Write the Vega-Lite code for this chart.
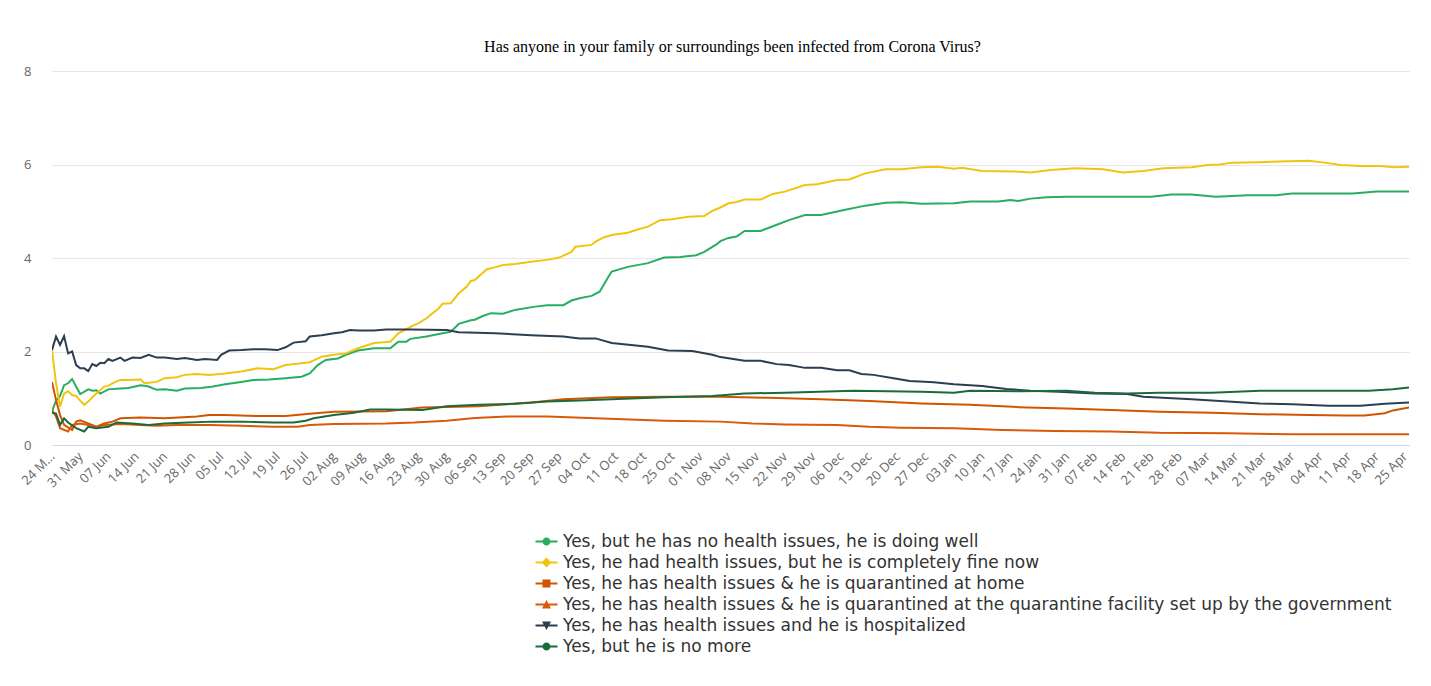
{
"$schema": "https://vega.github.io/schema/vega-lite/v6.json",
"width": 1357,
"height": 374,
"autosize": {"type": "none"},
"padding": {"left": 52, "top": 71, "right": 22, "bottom": 241},
"background": "#ffffff",
"title": {"text": "Has anyone in your family or surroundings been infected from Corona Virus?", "font": "Liberation Serif", "fontSize": 16, "fontWeight": "normal", "color": "#000000", "offset": 10, "anchor": "middle", "dx": 2},
"datasets": {
"series": [
{"k": "w", "name": "Yes, but he has no health issues, he is doing well"},
{"k": "f", "name": "Yes, he had health issues, but he is completely fine now"},
{"k": "h", "name": "Yes, he has health issues & he is quarantined at home"},
{"k": "q", "name": "Yes, he has health issues & he is quarantined at the quarantine facility set up by the government"},
{"k": "p", "name": "Yes, he has health issues and he is hospitalized"},
{"k": "m", "name": "Yes, but he is no more"}
],
"points": [
{"k":"w","d":"2020-05-24","v":0.72},{"k":"w","d":"2020-05-25","v":0.95},{"k":"w","d":"2020-05-26","v":1.05},{"k":"w","d":"2020-05-27","v":1.28},{"k":"w","d":"2020-05-28","v":1.32},{"k":"w","d":"2020-05-29","v":1.41},{"k":"w","d":"2020-05-31","v":1.09},{"k":"w","d":"2020-06-02","v":1.19},{"k":"w","d":"2020-06-03","v":1.16},{"k":"w","d":"2020-06-04","v":1.17},{"k":"w","d":"2020-06-05","v":1.10},{"k":"w","d":"2020-06-07","v":1.19},{"k":"w","d":"2020-06-10","v":1.21},{"k":"w","d":"2020-06-12","v":1.22},{"k":"w","d":"2020-06-15","v":1.28},{"k":"w","d":"2020-06-17","v":1.25},{"k":"w","d":"2020-06-19","v":1.18},{"k":"w","d":"2020-06-21","v":1.19},{"k":"w","d":"2020-06-24","v":1.16},{"k":"w","d":"2020-06-26","v":1.21},{"k":"w","d":"2020-06-30","v":1.22},{"k":"w","d":"2020-07-03","v":1.25},{"k":"w","d":"2020-07-06","v":1.30},{"k":"w","d":"2020-07-10","v":1.35},{"k":"w","d":"2020-07-13","v":1.39},{"k":"w","d":"2020-07-17","v":1.40},{"k":"w","d":"2020-07-21","v":1.43},{"k":"w","d":"2020-07-25","v":1.46},{"k":"w","d":"2020-07-27","v":1.53},{"k":"w","d":"2020-07-29","v":1.71},{"k":"w","d":"2020-07-31","v":1.82},{"k":"w","d":"2020-08-03","v":1.85},{"k":"w","d":"2020-08-05","v":1.93},{"k":"w","d":"2020-08-08","v":2.02},{"k":"w","d":"2020-08-12","v":2.07},{"k":"w","d":"2020-08-16","v":2.07},{"k":"w","d":"2020-08-18","v":2.21},{"k":"w","d":"2020-08-20","v":2.21},{"k":"w","d":"2020-08-21","v":2.27},{"k":"w","d":"2020-08-25","v":2.32},{"k":"w","d":"2020-08-29","v":2.39},{"k":"w","d":"2020-08-31","v":2.42},{"k":"w","d":"2020-09-02","v":2.59},{"k":"w","d":"2020-09-05","v":2.67},{"k":"w","d":"2020-09-06","v":2.68},{"k":"w","d":"2020-09-08","v":2.76},{"k":"w","d":"2020-09-10","v":2.82},{"k":"w","d":"2020-09-13","v":2.81},{"k":"w","d":"2020-09-16","v":2.89},{"k":"w","d":"2020-09-21","v":2.96},{"k":"w","d":"2020-09-24","v":2.99},{"k":"w","d":"2020-09-28","v":2.99},{"k":"w","d":"2020-09-30","v":3.09},{"k":"w","d":"2020-10-02","v":3.14},{"k":"w","d":"2020-10-05","v":3.19},{"k":"w","d":"2020-10-07","v":3.28},{"k":"w","d":"2020-10-09","v":3.57},{"k":"w","d":"2020-10-10","v":3.71},{"k":"w","d":"2020-10-14","v":3.81},{"k":"w","d":"2020-10-19","v":3.89},{"k":"w","d":"2020-10-23","v":4.01},{"k":"w","d":"2020-10-27","v":4.02},{"k":"w","d":"2020-10-31","v":4.06},{"k":"w","d":"2020-11-02","v":4.13},{"k":"w","d":"2020-11-05","v":4.29},{"k":"w","d":"2020-11-06","v":4.36},{"k":"w","d":"2020-11-08","v":4.43},{"k":"w","d":"2020-11-10","v":4.46},{"k":"w","d":"2020-11-12","v":4.58},{"k":"w","d":"2020-11-16","v":4.58},{"k":"w","d":"2020-11-20","v":4.71},{"k":"w","d":"2020-11-23","v":4.81},{"k":"w","d":"2020-11-27","v":4.92},{"k":"w","d":"2020-12-01","v":4.92},{"k":"w","d":"2020-12-07","v":5.03},{"k":"w","d":"2020-12-12","v":5.12},{"k":"w","d":"2020-12-17","v":5.18},{"k":"w","d":"2020-12-21","v":5.19},{"k":"w","d":"2020-12-26","v":5.16},{"k":"w","d":"2021-01-03","v":5.17},{"k":"w","d":"2021-01-07","v":5.21},{"k":"w","d":"2021-01-14","v":5.21},{"k":"w","d":"2021-01-17","v":5.24},{"k":"w","d":"2021-01-19","v":5.22},{"k":"w","d":"2021-01-22","v":5.27},{"k":"w","d":"2021-01-26","v":5.30},{"k":"w","d":"2021-01-31","v":5.31},{"k":"w","d":"2021-02-12","v":5.31},{"k":"w","d":"2021-02-21","v":5.31},{"k":"w","d":"2021-02-26","v":5.36},{"k":"w","d":"2021-03-03","v":5.36},{"k":"w","d":"2021-03-09","v":5.31},{"k":"w","d":"2021-03-17","v":5.34},{"k":"w","d":"2021-03-24","v":5.34},{"k":"w","d":"2021-03-28","v":5.38},{"k":"w","d":"2021-04-12","v":5.38},{"k":"w","d":"2021-04-18","v":5.42},{"k":"w","d":"2021-04-26","v":5.42},
{"k":"f","d":"2020-05-24","v":2.03},{"k":"f","d":"2020-05-25","v":1.32},{"k":"f","d":"2020-05-26","v":0.82},{"k":"f","d":"2020-05-27","v":1.10},{"k":"f","d":"2020-05-28","v":1.15},{"k":"f","d":"2020-05-29","v":1.07},{"k":"f","d":"2020-05-30","v":1.05},{"k":"f","d":"2020-05-31","v":0.95},{"k":"f","d":"2020-06-01","v":0.86},{"k":"f","d":"2020-06-02","v":0.93},{"k":"f","d":"2020-06-04","v":1.10},{"k":"f","d":"2020-06-06","v":1.25},{"k":"f","d":"2020-06-07","v":1.27},{"k":"f","d":"2020-06-09","v":1.36},{"k":"f","d":"2020-06-10","v":1.39},{"k":"f","d":"2020-06-12","v":1.39},{"k":"f","d":"2020-06-15","v":1.40},{"k":"f","d":"2020-06-16","v":1.32},{"k":"f","d":"2020-06-19","v":1.35},{"k":"f","d":"2020-06-21","v":1.43},{"k":"f","d":"2020-06-24","v":1.45},{"k":"f","d":"2020-06-26","v":1.50},{"k":"f","d":"2020-06-29","v":1.52},{"k":"f","d":"2020-07-02","v":1.50},{"k":"f","d":"2020-07-06","v":1.53},{"k":"f","d":"2020-07-10","v":1.57},{"k":"f","d":"2020-07-14","v":1.64},{"k":"f","d":"2020-07-18","v":1.62},{"k":"f","d":"2020-07-21","v":1.71},{"k":"f","d":"2020-07-25","v":1.75},{"k":"f","d":"2020-07-27","v":1.77},{"k":"f","d":"2020-07-30","v":1.89},{"k":"f","d":"2020-08-02","v":1.93},{"k":"f","d":"2020-08-05","v":1.96},{"k":"f","d":"2020-08-08","v":2.07},{"k":"f","d":"2020-08-12","v":2.18},{"k":"f","d":"2020-08-16","v":2.21},{"k":"f","d":"2020-08-18","v":2.39},{"k":"f","d":"2020-08-22","v":2.57},{"k":"f","d":"2020-08-23","v":2.60},{"k":"f","d":"2020-08-25","v":2.71},{"k":"f","d":"2020-08-28","v":2.92},{"k":"f","d":"2020-08-29","v":3.02},{"k":"f","d":"2020-08-31","v":3.03},{"k":"f","d":"2020-09-02","v":3.24},{"k":"f","d":"2020-09-04","v":3.39},{"k":"f","d":"2020-09-05","v":3.51},{"k":"f","d":"2020-09-06","v":3.53},{"k":"f","d":"2020-09-09","v":3.76},{"k":"f","d":"2020-09-11","v":3.80},{"k":"f","d":"2020-09-13","v":3.85},{"k":"f","d":"2020-09-16","v":3.87},{"k":"f","d":"2020-09-20","v":3.92},{"k":"f","d":"2020-09-24","v":3.96},{"k":"f","d":"2020-09-27","v":4.01},{"k":"f","d":"2020-09-30","v":4.13},{"k":"f","d":"2020-10-01","v":4.24},{"k":"f","d":"2020-10-05","v":4.28},{"k":"f","d":"2020-10-06","v":4.35},{"k":"f","d":"2020-10-08","v":4.44},{"k":"f","d":"2020-10-10","v":4.49},{"k":"f","d":"2020-10-14","v":4.54},{"k":"f","d":"2020-10-16","v":4.60},{"k":"f","d":"2020-10-19","v":4.67},{"k":"f","d":"2020-10-22","v":4.81},{"k":"f","d":"2020-10-25","v":4.83},{"k":"f","d":"2020-10-29","v":4.88},{"k":"f","d":"2020-11-02","v":4.90},{"k":"f","d":"2020-11-04","v":5.01},{"k":"f","d":"2020-11-06","v":5.08},{"k":"f","d":"2020-11-08","v":5.17},{"k":"f","d":"2020-11-10","v":5.20},{"k":"f","d":"2020-11-12","v":5.25},{"k":"f","d":"2020-11-16","v":5.25},{"k":"f","d":"2020-11-19","v":5.37},{"k":"f","d":"2020-11-22","v":5.42},{"k":"f","d":"2020-11-27","v":5.56},{"k":"f","d":"2020-11-30","v":5.58},{"k":"f","d":"2020-12-05","v":5.67},{"k":"f","d":"2020-12-08","v":5.68},{"k":"f","d":"2020-12-12","v":5.81},{"k":"f","d":"2020-12-17","v":5.90},{"k":"f","d":"2020-12-21","v":5.90},{"k":"f","d":"2020-12-26","v":5.94},{"k":"f","d":"2020-12-30","v":5.95},{"k":"f","d":"2021-01-03","v":5.91},{"k":"f","d":"2021-01-05","v":5.93},{"k":"f","d":"2021-01-10","v":5.86},{"k":"f","d":"2021-01-18","v":5.85},{"k":"f","d":"2021-01-22","v":5.83},{"k":"f","d":"2021-01-27","v":5.88},{"k":"f","d":"2021-02-02","v":5.92},{"k":"f","d":"2021-02-09","v":5.90},{"k":"f","d":"2021-02-14","v":5.83},{"k":"f","d":"2021-02-19","v":5.86},{"k":"f","d":"2021-02-24","v":5.92},{"k":"f","d":"2021-03-03","v":5.94},{"k":"f","d":"2021-03-07","v":5.99},{"k":"f","d":"2021-03-10","v":6.00},{"k":"f","d":"2021-03-13","v":6.04},{"k":"f","d":"2021-03-20","v":6.05},{"k":"f","d":"2021-03-27","v":6.07},{"k":"f","d":"2021-04-01","v":6.08},{"k":"f","d":"2021-04-05","v":6.04},{"k":"f","d":"2021-04-09","v":5.99},{"k":"f","d":"2021-04-14","v":5.97},{"k":"f","d":"2021-04-19","v":5.97},{"k":"f","d":"2021-04-22","v":5.94},{"k":"f","d":"2021-04-26","v":5.95},
{"k":"h","d":"2020-05-24","v":1.35},{"k":"h","d":"2020-05-25","v":0.96},{"k":"h","d":"2020-05-26","v":0.64},{"k":"h","d":"2020-05-27","v":0.43},{"k":"h","d":"2020-05-29","v":0.32},{"k":"h","d":"2020-05-30","v":0.50},{"k":"h","d":"2020-05-31","v":0.53},{"k":"h","d":"2020-06-02","v":0.46},{"k":"h","d":"2020-06-04","v":0.39},{"k":"h","d":"2020-06-06","v":0.46},{"k":"h","d":"2020-06-08","v":0.50},{"k":"h","d":"2020-06-10","v":0.57},{"k":"h","d":"2020-06-15","v":0.59},{"k":"h","d":"2020-06-21","v":0.57},{"k":"h","d":"2020-06-29","v":0.61},{"k":"h","d":"2020-07-02","v":0.64},{"k":"h","d":"2020-07-06","v":0.64},{"k":"h","d":"2020-07-14","v":0.62},{"k":"h","d":"2020-07-21","v":0.62},{"k":"h","d":"2020-07-27","v":0.67},{"k":"h","d":"2020-08-02","v":0.71},{"k":"h","d":"2020-08-15","v":0.72},{"k":"h","d":"2020-08-24","v":0.80},{"k":"h","d":"2020-09-07","v":0.83},{"k":"h","d":"2020-09-20","v":0.91},{"k":"h","d":"2020-09-28","v":0.98},{"k":"h","d":"2020-10-10","v":1.02},{"k":"h","d":"2020-10-23","v":1.03},{"k":"h","d":"2020-11-06","v":1.03},{"k":"h","d":"2020-11-18","v":1.01},{"k":"h","d":"2020-12-01","v":0.98},{"k":"h","d":"2020-12-13","v":0.94},{"k":"h","d":"2020-12-26","v":0.89},{"k":"h","d":"2021-01-07","v":0.86},{"k":"h","d":"2021-01-19","v":0.81},{"k":"h","d":"2021-01-31","v":0.78},{"k":"h","d":"2021-02-11","v":0.75},{"k":"h","d":"2021-02-23","v":0.71},{"k":"h","d":"2021-03-08","v":0.69},{"k":"h","d":"2021-03-20","v":0.66},{"k":"h","d":"2021-04-01","v":0.64},{"k":"h","d":"2021-04-10","v":0.63},{"k":"h","d":"2021-04-15","v":0.63},{"k":"h","d":"2021-04-20","v":0.68},{"k":"h","d":"2021-04-22","v":0.74},{"k":"h","d":"2021-04-26","v":0.80},
{"k":"q","d":"2020-05-24","v":0.75},{"k":"q","d":"2020-05-25","v":0.61},{"k":"q","d":"2020-05-26","v":0.36},{"k":"q","d":"2020-05-28","v":0.29},{"k":"q","d":"2020-05-29","v":0.43},{"k":"q","d":"2020-05-31","v":0.46},{"k":"q","d":"2020-06-02","v":0.43},{"k":"q","d":"2020-06-04","v":0.37},{"k":"q","d":"2020-06-06","v":0.43},{"k":"q","d":"2020-06-10","v":0.45},{"k":"q","d":"2020-06-15","v":0.43},{"k":"q","d":"2020-06-19","v":0.41},{"k":"q","d":"2020-06-24","v":0.43},{"k":"q","d":"2020-07-02","v":0.43},{"k":"q","d":"2020-07-10","v":0.41},{"k":"q","d":"2020-07-18","v":0.39},{"k":"q","d":"2020-07-24","v":0.39},{"k":"q","d":"2020-07-27","v":0.43},{"k":"q","d":"2020-08-02","v":0.45},{"k":"q","d":"2020-08-15","v":0.46},{"k":"q","d":"2020-08-22","v":0.48},{"k":"q","d":"2020-08-30","v":0.52},{"k":"q","d":"2020-09-06","v":0.58},{"k":"q","d":"2020-09-14","v":0.61},{"k":"q","d":"2020-09-24","v":0.61},{"k":"q","d":"2020-10-06","v":0.57},{"k":"q","d":"2020-10-23","v":0.52},{"k":"q","d":"2020-11-06","v":0.50},{"k":"q","d":"2020-11-14","v":0.46},{"k":"q","d":"2020-11-22","v":0.44},{"k":"q","d":"2020-12-05","v":0.43},{"k":"q","d":"2020-12-13","v":0.39},{"k":"q","d":"2020-12-21","v":0.37},{"k":"q","d":"2021-01-03","v":0.36},{"k":"q","d":"2021-01-15","v":0.32},{"k":"q","d":"2021-01-28","v":0.30},{"k":"q","d":"2021-02-11","v":0.29},{"k":"q","d":"2021-02-23","v":0.26},{"k":"q","d":"2021-03-12","v":0.25},{"k":"q","d":"2021-03-28","v":0.23},{"k":"q","d":"2021-04-14","v":0.23},{"k":"q","d":"2021-04-26","v":0.23},
{"k":"p","d":"2020-05-24","v":2.03},{"k":"p","d":"2020-05-25","v":2.32},{"k":"p","d":"2020-05-26","v":2.14},{"k":"p","d":"2020-05-27","v":2.33},{"k":"p","d":"2020-05-28","v":1.96},{"k":"p","d":"2020-05-29","v":2.0},{"k":"p","d":"2020-05-30","v":1.71},{"k":"p","d":"2020-05-31","v":1.64},{"k":"p","d":"2020-06-01","v":1.64},{"k":"p","d":"2020-06-02","v":1.58},{"k":"p","d":"2020-06-03","v":1.73},{"k":"p","d":"2020-06-04","v":1.69},{"k":"p","d":"2020-06-05","v":1.76},{"k":"p","d":"2020-06-06","v":1.75},{"k":"p","d":"2020-06-07","v":1.84},{"k":"p","d":"2020-06-08","v":1.80},{"k":"p","d":"2020-06-10","v":1.87},{"k":"p","d":"2020-06-11","v":1.80},{"k":"p","d":"2020-06-13","v":1.87},{"k":"p","d":"2020-06-15","v":1.86},{"k":"p","d":"2020-06-17","v":1.93},{"k":"p","d":"2020-06-19","v":1.87},{"k":"p","d":"2020-06-21","v":1.87},{"k":"p","d":"2020-06-24","v":1.84},{"k":"p","d":"2020-06-26","v":1.86},{"k":"p","d":"2020-06-29","v":1.82},{"k":"p","d":"2020-07-01","v":1.84},{"k":"p","d":"2020-07-04","v":1.82},{"k":"p","d":"2020-07-05","v":1.93},{"k":"p","d":"2020-07-07","v":2.02},{"k":"p","d":"2020-07-10","v":2.03},{"k":"p","d":"2020-07-13","v":2.05},{"k":"p","d":"2020-07-16","v":2.05},{"k":"p","d":"2020-07-19","v":2.03},{"k":"p","d":"2020-07-21","v":2.09},{"k":"p","d":"2020-07-23","v":2.19},{"k":"p","d":"2020-07-26","v":2.22},{"k":"p","d":"2020-07-27","v":2.32},{"k":"p","d":"2020-07-30","v":2.35},{"k":"p","d":"2020-08-02","v":2.39},{"k":"p","d":"2020-08-04","v":2.41},{"k":"p","d":"2020-08-06","v":2.46},{"k":"p","d":"2020-08-08","v":2.45},{"k":"p","d":"2020-08-12","v":2.45},{"k":"p","d":"2020-08-15","v":2.47},{"k":"p","d":"2020-08-21","v":2.47},{"k":"p","d":"2020-08-30","v":2.46},{"k":"p","d":"2020-09-02","v":2.41},{"k":"p","d":"2020-09-11","v":2.39},{"k":"p","d":"2020-09-20","v":2.35},{"k":"p","d":"2020-09-28","v":2.32},{"k":"p","d":"2020-10-02","v":2.28},{"k":"p","d":"2020-10-06","v":2.28},{"k":"p","d":"2020-10-10","v":2.18},{"k":"p","d":"2020-10-19","v":2.10},{"k":"p","d":"2020-10-24","v":2.02},{"k":"p","d":"2020-10-30","v":2.01},{"k":"p","d":"2020-11-04","v":1.93},{"k":"p","d":"2020-11-06","v":1.88},{"k":"p","d":"2020-11-12","v":1.80},{"k":"p","d":"2020-11-16","v":1.80},{"k":"p","d":"2020-11-20","v":1.73},{"k":"p","d":"2020-11-23","v":1.71},{"k":"p","d":"2020-11-27","v":1.65},{"k":"p","d":"2020-12-01","v":1.65},{"k":"p","d":"2020-12-05","v":1.60},{"k":"p","d":"2020-12-08","v":1.60},{"k":"p","d":"2020-12-11","v":1.52},{"k":"p","d":"2020-12-14","v":1.50},{"k":"p","d":"2020-12-19","v":1.43},{"k":"p","d":"2020-12-23","v":1.37},{"k":"p","d":"2020-12-29","v":1.34},{"k":"p","d":"2021-01-03","v":1.30},{"k":"p","d":"2021-01-10","v":1.26},{"k":"p","d":"2021-01-16","v":1.20},{"k":"p","d":"2021-01-22","v":1.16},{"k":"p","d":"2021-01-29","v":1.14},{"k":"p","d":"2021-02-07","v":1.10},{"k":"p","d":"2021-02-15","v":1.09},{"k":"p","d":"2021-02-19","v":1.03},{"k":"p","d":"2021-03-03","v":0.98},{"k":"p","d":"2021-03-20","v":0.89},{"k":"p","d":"2021-03-28","v":0.87},{"k":"p","d":"2021-04-06","v":0.84},{"k":"p","d":"2021-04-14","v":0.84},{"k":"p","d":"2021-04-20","v":0.88},{"k":"p","d":"2021-04-26","v":0.91},
{"k":"m","d":"2020-05-24","v":0.69},{"k":"m","d":"2020-05-25","v":0.67},{"k":"m","d":"2020-05-26","v":0.43},{"k":"m","d":"2020-05-27","v":0.57},{"k":"m","d":"2020-05-28","v":0.48},{"k":"m","d":"2020-05-30","v":0.36},{"k":"m","d":"2020-06-01","v":0.29},{"k":"m","d":"2020-06-02","v":0.39},{"k":"m","d":"2020-06-04","v":0.36},{"k":"m","d":"2020-06-07","v":0.39},{"k":"m","d":"2020-06-09","v":0.48},{"k":"m","d":"2020-06-13","v":0.46},{"k":"m","d":"2020-06-17","v":0.43},{"k":"m","d":"2020-06-21","v":0.46},{"k":"m","d":"2020-06-27","v":0.48},{"k":"m","d":"2020-07-03","v":0.50},{"k":"m","d":"2020-07-10","v":0.50},{"k":"m","d":"2020-07-18","v":0.48},{"k":"m","d":"2020-07-23","v":0.48},{"k":"m","d":"2020-07-26","v":0.52},{"k":"m","d":"2020-07-28","v":0.57},{"k":"m","d":"2020-08-02","v":0.64},{"k":"m","d":"2020-08-07","v":0.69},{"k":"m","d":"2020-08-11","v":0.76},{"k":"m","d":"2020-08-15","v":0.76},{"k":"m","d":"2020-08-24","v":0.75},{"k":"m","d":"2020-08-30","v":0.83},{"k":"m","d":"2020-09-07","v":0.86},{"k":"m","d":"2020-09-16","v":0.88},{"k":"m","d":"2020-09-24","v":0.93},{"k":"m","d":"2020-10-02","v":0.95},{"k":"m","d":"2020-10-10","v":0.98},{"k":"m","d":"2020-10-23","v":1.02},{"k":"m","d":"2020-11-04","v":1.05},{"k":"m","d":"2020-11-12","v":1.10},{"k":"m","d":"2020-11-22","v":1.12},{"k":"m","d":"2020-12-09","v":1.16},{"k":"m","d":"2020-12-26","v":1.14},{"k":"m","d":"2021-01-03","v":1.12},{"k":"m","d":"2021-01-07","v":1.16},{"k":"m","d":"2021-01-19","v":1.15},{"k":"m","d":"2021-01-31","v":1.16},{"k":"m","d":"2021-02-07","v":1.12},{"k":"m","d":"2021-02-15","v":1.10},{"k":"m","d":"2021-02-23","v":1.12},{"k":"m","d":"2021-03-08","v":1.12},{"k":"m","d":"2021-03-20","v":1.16},{"k":"m","d":"2021-04-06","v":1.16},{"k":"m","d":"2021-04-16","v":1.16},{"k":"m","d":"2021-04-22","v":1.19},{"k":"m","d":"2021-04-26","v":1.23}
]
},
"data": {"name": "points"},
"transform": [
{"lookup": "k", "from": {"data": {"name": "series"}, "key": "k", "fields": ["name"]}}
],
"mark": {"type": "line", "strokeWidth": 2, "clip": true},
"encoding": {
"x": {
"field": "d", "type": "temporal",
"scale": {"type": "utc", "domain": [{"year": 2020, "month": 5, "date": 24, "utc": true}, {"year": 2021, "month": 4, "date": 26, "utc": true}]},
"axis": {"title": null, "format": "%d %b", "tickCount": {"interval": "week", "step": 1}, "labelExpr": "time(datum.value) < 1590300000000 ? '24 M…' : datum.label", "labelAngle": -45, "labelAlign": "right", "labelBaseline": "middle", "labelFont": "Open Sans", "labelFontSize": 13, "labelColor": "#666666", "ticks": false, "domainColor": "#ccd6eb", "domainWidth": 1, "labelPadding": 9, "grid": false, "labelOverlap": false, "labelBound": false, "labelFlush": false}
},
"y": {
"field": "v", "type": "quantitative",
"scale": {"domain": [0, 8], "nice": false, "zero": true},
"axis": {"title": null, "values": [0, 2, 4, 6, 8], "grid": true, "gridColor": "#e6e6e6", "gridWidth": 1, "domain": false, "ticks": false, "labelFont": "Open Sans", "labelFontSize": 13, "labelColor": "#666666", "labelPadding": 21}
},
"color": {
"field": "name", "type": "nominal",
"scale": {
"domain": ["Yes, but he has no health issues, he is doing well", "Yes, he had health issues, but he is completely fine now", "Yes, he has health issues & he is quarantined at home", "Yes, he has health issues & he is quarantined at the quarantine facility set up by the government", "Yes, he has health issues and he is hospitalized", "Yes, but he is no more"],
"range": ["#27ae60", "#f1c40f", "#d35400", "#d9590a", "#2c3e50", "#1b6b3a"]
},
"legend": {
"orient": "none", "legendX": 486, "legendY": 462, "title": null, "direction": "vertical",
"labelFont": "DejaVu Sans", "labelFontSize": 17, "labelColor": "#333333", "labelLimit": 3000,
"symbolSize": 100, "labelOffset": 8, "rowPadding": 3,
"encode": {"symbols": {"update": {
"shape": {"signal": "['M-2.2,-0.2H2.2V0.2H-2.2Z M-0.8,0A0.8,0.8,0,1,1,0.8,0A0.8,0.8,0,1,1,-0.8,0Z','M-2.2,-0.2H2.2V0.2H-2.2Z M0,-1L1,0L0,1L-1,0Z','M-2.2,-0.2H2.2V0.2H-2.2Z M-0.8,-0.8H0.8V0.8H-0.8Z','M-2.2,-0.2H2.2V0.2H-2.2Z M0,-0.9L0.9,0.8H-0.9Z','M-2.2,-0.2H2.2V0.2H-2.2Z M-0.9,-0.8H0.9L0,0.9Z','M-2.2,-0.2H2.2V0.2H-2.2Z M-0.8,0A0.8,0.8,0,1,1,0.8,0A0.8,0.8,0,1,1,-0.8,0Z'][indexof(domain('color'), datum.value)]"},
"fill": {"signal": "scale('color', datum.value)"},
"stroke": {"value": "transparent"},
"strokeWidth": {"value": 0},
"opacity": {"value": 1}
}}}
}
}
},
"config": {"view": {"stroke": null}}
}
